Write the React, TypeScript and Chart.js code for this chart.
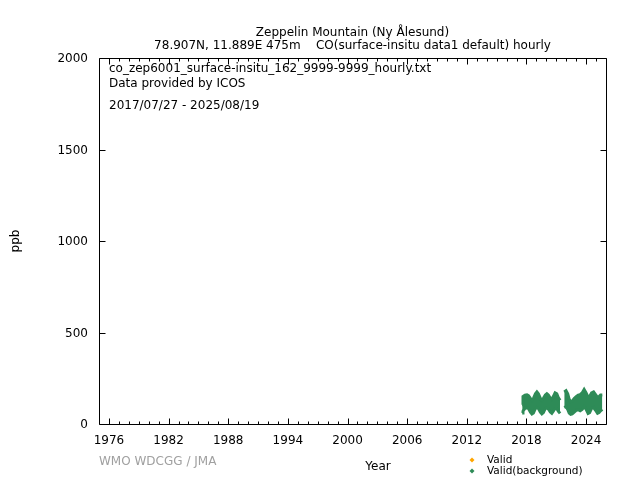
import React, { useEffect, useRef } from "react";
import { Chart, registerables } from "chart.js";

Chart.register(...registerables);

const X_TICKS = [1976, 1982, 1988, 1994, 2000, 2006, 2012, 2018, 2024];
const X_MIN = 1975;
const X_MAX = 2026;
const Y_TICKS = [0, 500, 1000, 1500, 2000];

const TITLE_1 = "Zeppelin Mountain (Ny Ålesund)";
const TITLE_2 = "78.907N, 11.889E 475m    CO(surface-insitu data1 default) hourly";
const INFO_LINES = [
  "co_zep6001_surface-insitu_162_9999-9999_hourly.txt",
  "Data provided by ICOS",
  "2017/07/27 - 2025/08/19",
];
const LEGEND_LABELS = ["Valid", "Valid(background)"];
const LEGEND_COLORS = ["#ffa500", "#2e8b57"];

// decimal year, envelope of hourly values (ppb); null marks the data gap
const TIMES = [
  2017.57, 2017.65, 2017.85, 2018.05, 2018.2, 2018.4, 2018.55, 2018.7, 2018.9,
  2019.05, 2019.2, 2019.4, 2019.55, 2019.7, 2019.9, 2020.05, 2020.2, 2020.4,
  2020.55, 2020.7, 2020.88, 2021.05, 2021.2, 2021.38, 2021.6,
  2021.8, 2021.98, 2022.15, 2022.3, 2022.45, 2022.6, 2022.8, 2023.0, 2023.2,
  2023.4, 2023.6, 2023.8, 2024.0, 2024.2, 2024.35, 2024.55, 2024.75, 2024.95,
  2025.15, 2025.3, 2025.45, 2025.63,
];
const LOW = [
  60, 70, 85, 90, 85, 65, 55, 60, 85,
  90, 85, 65, 55, 62, 85, 88, 82, 65,
  58, 70, 85, 85, 70, 58, null,
  90, 95, 80, 60, 53, 55, 65, 75, 78,
  72, 80, 95, 80, 58, 62, 85, 90, 75,
  58, 62, 72, 80,
];
const HIGH = [
  105, 150, 158, 160, 155, 140, 130, 140, 165,
  175, 165, 140, 130, 140, 158, 165, 158, 140,
  135, 150, 170, 165, 145, 130, null,
  175, 182, 165, 135, 122, 125, 140, 150, 158,
  160, 170, 189, 170, 145, 150, 170, 175, 160,
  145, 150, 158, 158,
];

const FONT = "'DejaVu Sans', sans-serif";

const framePlugin = {
  id: "frame",
  afterDraw(chart: any) {
    const { ctx, chartArea } = chart;
    const { left, right, top, bottom } = chartArea;
    const xs = chart.scales.x;
    const ys = chart.scales.y;
    ctx.save();
    ctx.strokeStyle = "#000";
    ctx.lineWidth = 1;
    const L = Math.round(left) + 0.5;
    const R = Math.round(right) + 0.5;
    const T = Math.round(top) + 0.5;
    const B = Math.round(bottom) + 0.5;
    ctx.beginPath();
    ctx.rect(L, T, R - L, B - T);
    ctx.stroke();
    ctx.beginPath();
    for (let yr = X_MIN + 1; yr < X_MAX; yr++) {
      const px = Math.round(xs.getPixelForValue(yr)) + 0.5;
      const len = X_TICKS.includes(yr) ? 6 : 3;
      ctx.moveTo(px, B);
      ctx.lineTo(px, B - len);
      ctx.moveTo(px, T);
      ctx.lineTo(px, T + len);
    }
    for (const v of Y_TICKS) {
      const py = Math.round(ys.getPixelForValue(v)) + 0.5;
      ctx.moveTo(L, py);
      ctx.lineTo(L + 6, py);
      ctx.moveTo(R, py);
      ctx.lineTo(R - 6, py);
    }
    ctx.stroke();

    const cx = (left + right) / 2;
    ctx.fillStyle = "#000";
    ctx.textBaseline = "middle";
    ctx.textAlign = "center";
    ctx.font = `12px ${FONT}`;
    ctx.fillText(TITLE_1, cx, 33);
    ctx.fillText(TITLE_2, cx, 46);

    ctx.textAlign = "left";
    ctx.fillText(INFO_LINES[0], left + 10, 69);
    ctx.fillText(INFO_LINES[1], left + 10, 84);
    ctx.fillText(INFO_LINES[2], left + 10, 106);

    ctx.textAlign = "center";
    ctx.fillText("Year", 378, 467);
    ctx.save();
    ctx.translate(16, 241);
    ctx.rotate(-Math.PI / 2);
    ctx.fillText("ppb", 0, 0);
    ctx.restore();

    ctx.textAlign = "left";
    ctx.fillStyle = "#a0a0a0";
    ctx.font = `12px ${FONT}`;
    ctx.fillText("WMO WDCGG / JMA", 99, 462);

    ctx.font = `10.5px ${FONT}`;
    LEGEND_LABELS.forEach((lab, i) => {
      const my = 460 + i * 11;
      ctx.fillStyle = LEGEND_COLORS[i];
      ctx.beginPath();
      ctx.moveTo(472, my - 2.5);
      ctx.lineTo(474.5, my);
      ctx.lineTo(472, my + 2.5);
      ctx.lineTo(469.5, my);
      ctx.closePath();
      ctx.fill();
      ctx.fillStyle = "#000";
      ctx.fillText(lab, 487, my);
    });
    ctx.restore();
  },
};

export default function App() {
  const ref = useRef<HTMLCanvasElement | null>(null);
  useEffect(() => {
    if (!ref.current) return;
    const lowPts = TIMES.map((t, i) => ({ x: t, y: LOW[i] }));
    const highPts = TIMES.map((t, i) => ({ x: t, y: HIGH[i] }));
    const green = LEGEND_COLORS[1];
    const chart = new Chart(ref.current, {
      type: "line",
      data: {
        datasets: [
          {
            label: "low",
            data: lowPts,
            borderColor: green,
            backgroundColor: green,
            borderWidth: 3,
            pointRadius: 0,
            fill: false,
            spanGaps: false,
            tension: 0,
          },
          {
            label: "Valid(background)",
            data: highPts,
            borderColor: green,
            backgroundColor: green,
            borderWidth: 3,
            pointRadius: 0,
            fill: "-1",
            spanGaps: false,
            tension: 0,
          },
        ],
      },
      options: {
        responsive: false,
        animation: false,
        layout: { padding: { left: 0, right: 34, top: 58, bottom: 0 } },
        plugins: {
          legend: { display: false },
          title: { display: false },
          tooltip: { enabled: false },
        },
        scales: {
          x: {
            type: "linear",
            min: X_MIN,
            max: X_MAX,
            grid: { display: false, drawTicks: false },
            border: { display: false },
            afterBuildTicks: (s: any) => {
              s.ticks = X_TICKS.map((v) => ({ value: v }));
            },
            afterFit: (s: any) => {
              s.height = 56;
            },
            ticks: {
              padding: 10,
              maxRotation: 0,
              autoSkip: false,
              color: "#000",
              font: { family: FONT, size: 12 },
              callback: (v: any) => String(v),
            },
          },
          y: {
            min: 0,
            max: 2000,
            grid: { display: false, drawTicks: false },
            border: { display: false },
            afterBuildTicks: (s: any) => {
              s.ticks = Y_TICKS.map((v) => ({ value: v }));
            },
            afterFit: (s: any) => {
              s.width = 99;
            },
            ticks: {
              padding: 11,
              labelOffset: 1,
              color: "#000",
              font: { family: FONT, size: 12 },
              callback: (v: any) => String(v),
            },
          },
        },
      },
      plugins: [framePlugin],
    });
    return () => chart.destroy();
  }, []);
  return (
    <div style={{ position: "absolute", left: 0, top: 0, width: 640, height: 480, background: "#fff" }}>
      <canvas ref={ref} width={640} height={480} />
    </div>
  );
}
